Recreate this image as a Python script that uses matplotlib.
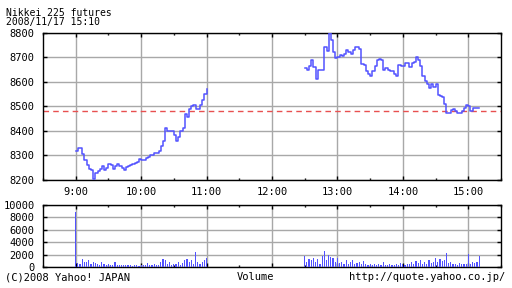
import numpy as np
import matplotlib
matplotlib.use("Agg")
import matplotlib.pyplot as plt
from matplotlib.ticker import FixedLocator

# ---------------- data ----------------
title_lines = ["Nikkei 225 futures", "2008/11/17 15:10"]
prev_close = 8480
step_minutes = 2
am_start = 9.0          # 9:00
pm_start = 12.5         # 12:30

am_price = [8320, 8330, 8330, 8305, 8280, 8260, 8245, 8240, 8205, 8230,
            8235, 8245, 8255, 8240, 8250, 8265, 8260, 8245, 8258, 8265,
            8255, 8250, 8240, 8252, 8258, 8262, 8265, 8270, 8275, 8285,
            8280, 8280, 8290, 8292, 8300, 8300, 8310, 8310, 8320, 8340,
            8360, 8410, 8400, 8400, 8400, 8385, 8360, 8375, 8400, 8410,
            8470, 8455, 8490, 8500, 8505, 8490, 8490, 8505, 8525, 8550,
            8570]

pm_price = [8658, 8650, 8665, 8690, 8660, 8612, 8650, 8650, 8650, 8740,
            8725, 8800, 8770, 8720, 8695, 8700, 8710, 8705, 8715, 8730,
            8720, 8715, 8730, 8740, 8740, 8735, 8672, 8670, 8645, 8630,
            8625, 8645, 8665, 8690, 8692, 8690, 8650, 8655, 8648, 8645,
            8642, 8630, 8625, 8670, 8665, 8665, 8675, 8678, 8660, 8675,
            8680, 8700, 8690, 8665, 8625, 8605, 8590, 8575, 8590, 8580,
            8590, 8548, 8542, 8540, 8510, 8472, 8472, 8485, 8490, 8480,
            8474, 8474, 8480, 8492, 8505, 8500, 8482, 8492, 8492, 8492,
            8492]

am_vol = [8800, 700, 500, 1300, 800, 900, 1100, 600, 900, 700,
          500, 400, 900, 500, 300, 600, 400, 300, 800, 400,
          300, 400, 300, 300, 400, 300, 200, 300, 300, 200,
          400, 300, 300, 700, 400, 300, 500, 400, 300, 800,
          1300, 1100, 500, 900, 400, 600, 500, 900, 400, 700,
          1100, 1400, 800, 1200, 500, 2500, 900, 600, 800, 1200,
          1500]

pm_vol = [1850, 800, 1400, 1100, 1500, 900, 1300, 600, 1800, 2600,
          1200, 1900, 1600, 1500, 800, 1500, 700, 900, 500, 1100,
          600, 800, 1200, 500, 700, 900, 500, 1000, 600, 400,
          500, 400, 600, 300, 500, 400, 800, 400, 300, 600,
          400, 300, 500, 400, 700, 500, 400, 600, 500, 800,
          500, 1000, 700, 1100, 600, 800, 500, 1200, 700, 900,
          1500, 800, 1300, 1000, 1100, 2300, 700, 800, 500, 600,
          400, 700, 500, 600, 600, 2200, 600, 800, 700, 900,
          1850]

hour_ticks = [9, 10, 11, 12, 13, 14, 15]
hour_labels = ["9:00", "10:00", "11:00", "12:00", "13:00", "14:00", "15:00"]
price_ticks = [8200, 8300, 8400, 8500, 8600, 8700, 8800]
vol_ticks = [0, 2000, 4000, 6000, 8000, 10000]

# ---------------- style ----------------
FONT = "DejaVu Sans Mono"
BLUE = "#5252ff"
GRID = "#a8a8a8"
RED = "#e85050"

am_x = am_start + np.arange(len(am_price)) * step_minutes / 60.0
pm_x = pm_start + np.arange(len(pm_price)) * step_minutes / 60.0
am_vx = am_start + np.arange(len(am_vol)) * step_minutes / 60.0
pm_vx = pm_start + np.arange(len(pm_vol)) * step_minutes / 60.0

W, H = 512, 288
fig = plt.figure(figsize=(W / 100, H / 100), dpi=100)
fig.patch.set_facecolor("white")

def box(l, t, r, b):
    return [l / W, 1 - b / H, (r - l) / W, (b - t) / H]

ax = fig.add_axes(box(43, 32.7, 501, 180))
axv = fig.add_axes(box(43, 204.7, 501, 267.3))

for a in (ax, axv):
    a.set_xlim(8.5, 15.5)
    a.xaxis.set_major_locator(FixedLocator(hour_ticks))
    a.xaxis.set_minor_locator(FixedLocator([h + 0.5 for h in range(8, 16)]))
    a.grid(True, which="major", color=GRID, lw=1.0)
    a.set_axisbelow(True)
    a.tick_params(which="major", direction="in", length=3, width=1, color="black",
                  top=True, right=True, labelsize=7.5)
    a.tick_params(which="minor", direction="in", length=1.6, width=1, color="black",
                  top=True, bottom=True)
    for s in a.spines.values():
        s.set_linewidth(1.0)
        s.set_color("black")

# price panel
ax.set_ylim(8200, 8800)
ax.yaxis.set_major_locator(FixedLocator(price_ticks))
ax.set_yticklabels([str(v) for v in price_ticks], fontfamily=FONT, fontsize=7.5)
ax.set_xticklabels(hour_labels, fontfamily=FONT, fontsize=7.5)
ax.tick_params(axis="y", pad=6)
ax.tick_params(axis="x", pad=5)
ax.axhline(prev_close, color=RED, lw=1.0, ls=(0, (4, 3)), zorder=2)
ax.step(am_x, am_price, where="post", color=BLUE, lw=1.1, zorder=3)
ax.step(pm_x, pm_price, where="post", color=BLUE, lw=1.1, zorder=3)

# volume panel
axv.set_ylim(0, 10000)
axv.yaxis.set_major_locator(FixedLocator(vol_ticks))
axv.set_yticklabels([str(v) for v in vol_ticks], fontfamily=FONT, fontsize=7.5)
axv.set_xticklabels([])
axv.tick_params(axis="y", pad=6)
axv.bar(am_vx, am_vol, width=1.1 / 60, color=BLUE, lw=0, zorder=3)
axv.bar(pm_vx, pm_vol, width=1.1 / 60, color=BLUE, lw=0, zorder=3)

# texts
fig.text(6 / W, 1 - 17.5 / H, "\n".join(title_lines), fontfamily=FONT, fontsize=7,
         va="center", ha="left", linespacing=0.85)
fig.text(5 / W, 1 - 277 / H, "(C)2008 Yahoo! JAPAN", fontfamily=FONT, fontsize=7.5, va="center", ha="left")
fig.text(255 / W, 1 - 277 / H, "Volume", fontfamily=FONT, fontsize=7.5, va="center", ha="center")
fig.text(505 / W, 1 - 277 / H, "http://quote.yahoo.co.jp/", fontfamily=FONT, fontsize=7.5, va="center", ha="right")

fig.savefig("out.png", dpi=100)
